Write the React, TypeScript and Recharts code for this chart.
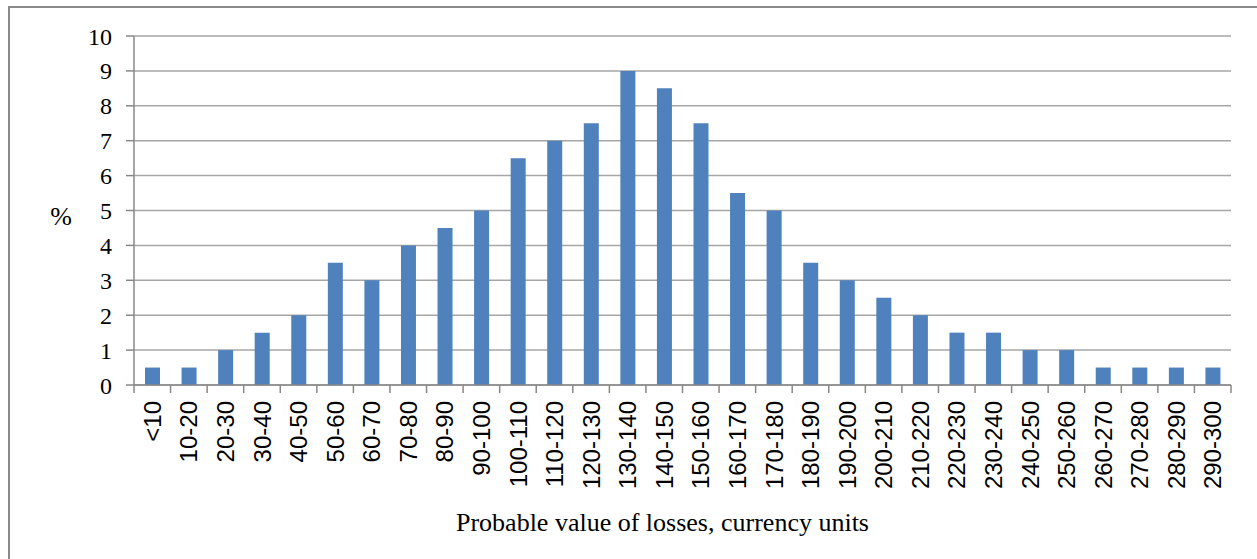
import React from 'react';
import { BarChart, Bar, XAxis, YAxis, CartesianGrid } from 'recharts';

const ranges = [
  '<10', '10-20', '20-30', '30-40', '40-50', '50-60', '60-70', '70-80', '80-90', '90-100',
  '100-110', '110-120', '120-130', '130-140', '140-150', '150-160', '160-170', '170-180', '180-190', '190-200',
  '200-210', '210-220', '220-230', '230-240', '240-250', '250-260', '260-270', '270-280', '280-290', '290-300',
];
const percents = [
  0.5, 0.5, 1, 1.5, 2, 3.5, 3, 4, 4.5, 5,
  6.5, 7, 7.5, 9, 8.5, 7.5, 5.5, 5, 3.5, 3,
  2.5, 2, 1.5, 1.5, 1, 1, 0.5, 0.5, 0.5, 0.5,
];
const yTicks = [0, 1, 2, 3, 4, 5, 6, 7, 8, 9, 10];

const data = ranges.map((r, i) => ({ range: r, value: percents[i] }));

const AXIS = '#888888';
const SERIF = "'Liberation Serif', 'Times New Roman', serif";
const STEP = 1097 / ranges.length;

// tick marks sit between categories, labels read bottom-to-top
function RangeTick(props: any) {
  const { x, y, payload, index } = props;
  const last = index === ranges.length - 1;
  const ty = y + 16;
  return (
    <g>
      <line x1={x - STEP / 2} y1={y} x2={x - STEP / 2} y2={y + 8} stroke={AXIS} strokeWidth={1.5} />
      {last && <line x1={x + STEP / 2} y1={y} x2={x + STEP / 2} y2={y + 8} stroke={AXIS} strokeWidth={1.5} />}
      <text
        x={x}
        y={ty}
        transform={`rotate(-90, ${x}, ${ty})`}
        textAnchor="end"
        dy="0.36em"
        fontFamily="'Liberation Sans', Arial, sans-serif"
        fontSize={24}
        fill="#000"
      >
        {payload.value}
      </text>
    </g>
  );
}

function XTitle(props: any) {
  const { viewBox } = props;
  const cx = viewBox.x + viewBox.width / 2 - 20;
  return (
    <text x={cx} y={531} textAnchor="middle" fontFamily={SERIF} fontSize={26} fill="#000">
      Probable value of losses, currency units
    </text>
  );
}

export default function App() {
  return (
    <div style={{ position: 'absolute', left: 0, top: 0, width: 1257, height: 559, overflow: 'hidden', background: '#fff' }}>
      <div style={{ position: 'absolute', left: 8, top: 6, width: 1300, height: 600, border: '2px solid #8a8a8a' }} />
      <BarChart
        width={1257}
        height={559}
        data={data}
        margin={{ top: 36, right: 26, bottom: 0, left: 74 }}
        style={{ position: 'absolute', left: 0, top: 0, fontFamily: SERIF }}
      >
        <CartesianGrid vertical={false} stroke="#a6a6a6" strokeWidth={1.5} />
        <XAxis
          dataKey="range"
          interval={0}
          height={174}
          tickLine={false}
          tickSize={0}
          tickMargin={0}
          axisLine={{ stroke: AXIS, strokeWidth: 1.5 }}
          tick={<RangeTick />}
          label={<XTitle />}
        />
        <YAxis
          width={60}
          domain={[0, 10]}
          ticks={yTicks}
          interval={0}
          tickSize={8}
          tickMargin={14}
          axisLine={{ stroke: AXIS, strokeWidth: 1.5 }}
          tickLine={{ stroke: AXIS, strokeWidth: 1.5 }}
          tick={{ fontSize: 24, fill: '#000', fontFamily: SERIF }}
          label={{
            value: '%',
            position: 'left',
            offset: 2,
            dy: 5,
            style: { fontSize: 26, fill: '#000', fontFamily: SERIF },
          }}
        />
        <Bar dataKey="value" fill="#4f81bd" barSize={15} isAnimationActive={false} />
      </BarChart>
    </div>
  );
}
